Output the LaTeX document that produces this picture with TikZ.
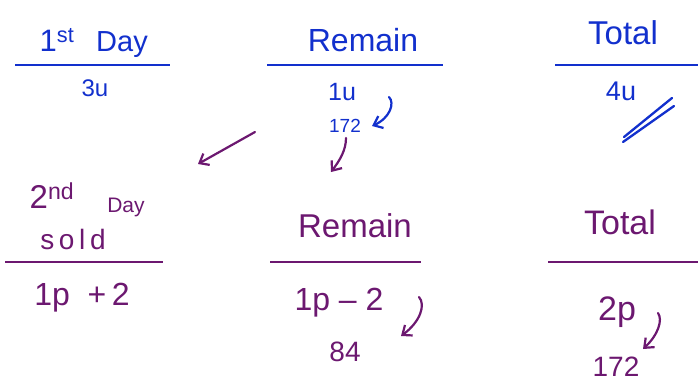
\documentclass[tikz,border=0pt]{standalone}
\usepackage{fontspec}
\setmainfont{Liberation Sans}
\usetikzlibrary{arrows.meta}
\definecolor{inkblue}{RGB}{18,48,205}
\definecolor{inkpurple}{RGB}{108,24,112}
\newcommand{\fs}[1]{\fontsize{#1}{#1}\selectfont}
\begin{document}
\begin{tikzpicture}[x=1pt,y=-1pt,
  txt/.style={inner sep=0pt},
  bl/.style={text=inkblue},
  pu/.style={text=inkpurple},
  rulebl/.style={draw=inkblue,line width=2.3pt},
  rulepu/.style={draw=inkpurple,line width=2.3pt},
  ink/.style={line width=2.2pt,line cap=round,line join=round,
    -{Straight Barb[length=8pt,width=13pt,line width=2.2pt]}}
]
\useasboundingbox (0,0) rectangle (698,383);
% ---------- top row (blue) ----------
\node[txt,bl,font=\fs{31}] (h1a) at (57,40) {1\textsuperscript{st}};
\node[txt,bl,font=\fs{29}] (h1b) at (122,45) {Day};
\draw[rulebl] (15,65) -- (170,65);
\node[txt,bl,font=\fs{24}] (v1) at (95,88) {3u};

\node[txt,bl,font=\fs{32}] (h2) at (363,40) {Remain};
\draw[rulebl] (267,65) -- (443,65);
\node[txt,bl,font=\fs{25}] (v2) at (342,92) {1u};
\node[txt,bl,font=\fs{19}] (v2b) at (345,126) {172};

\node[txt,bl,font=\fs{33}] (h3) at (623,33) {Total};
\draw[rulebl] (555,65) -- (698,65);
\node[txt,bl,font=\fs{27}] (v3) at (621,91) {4u};
\draw[draw=inkblue,line width=2.3pt,line cap=round] (624,137) -- (672,98);
\draw[draw=inkblue,line width=2.3pt,line cap=round] (623,142) -- (674,106);

\coordinate (a1s) at (389,97);
\coordinate (a1e) at (372,126);
\draw[ink,draw=inkblue] (a1s) .. controls (395,103) and (390,118) .. (a1e);

% ---------- connecting purple arrows ----------
\coordinate (a2s) at (255,132);
\coordinate (a2e) at (198,164);
\draw[ink,draw=inkpurple] (a2s) -- (a2e);
\coordinate (a3s) at (346,138);
\coordinate (a3e) at (331,172);
\draw[ink,draw=inkpurple] (a3s) .. controls (346,150) and (340,160) .. (a3e);

% ---------- bottom row (purple) ----------
\node[txt,pu,font=\fs{33}] (h4a) at (52,196) {2\textsuperscript{nd}};
\node[txt,pu,font=\fs{21}] (h4b) at (126,207) {Day};
\node[txt,pu,font=\fs{28}] (h4c) at (73,239) {s\,o\,l\,d};
\draw[rulepu] (5,262) -- (163,262);
\node[txt,pu,font=\fs{32}] (v4) at (82,298) {1p\ \ +\,2};

\node[txt,pu,font=\fs{33}] (h5) at (355,226) {Remain};
\draw[rulepu] (270,262) -- (421,262);
\node[txt,pu,font=\fs{32}] (v5) at (339,303) {1p -- 2};
\node[txt,pu,font=\fs{28}] (v5b) at (345,352) {84};
\coordinate (a4s) at (419,297);
\coordinate (a4e) at (401,336);
\draw[ink,draw=inkpurple] (a4s) .. controls (426,305) and (420,322) .. (a4e);

\node[txt,pu,font=\fs{34}] (h6) at (620,222) {Total};
\draw[rulepu] (548,262) -- (698,262);
\node[txt,pu,font=\fs{34}] (v6) at (617,312) {2p};
\node[txt,pu,font=\fs{28}] (v6b) at (616,367) {172};
\coordinate (a5s) at (658,313);
\coordinate (a5e) at (643,349);
\draw[ink,draw=inkpurple] (a5s) .. controls (663,320) and (658,335) .. (a5e);
\end{tikzpicture}
\end{document}
